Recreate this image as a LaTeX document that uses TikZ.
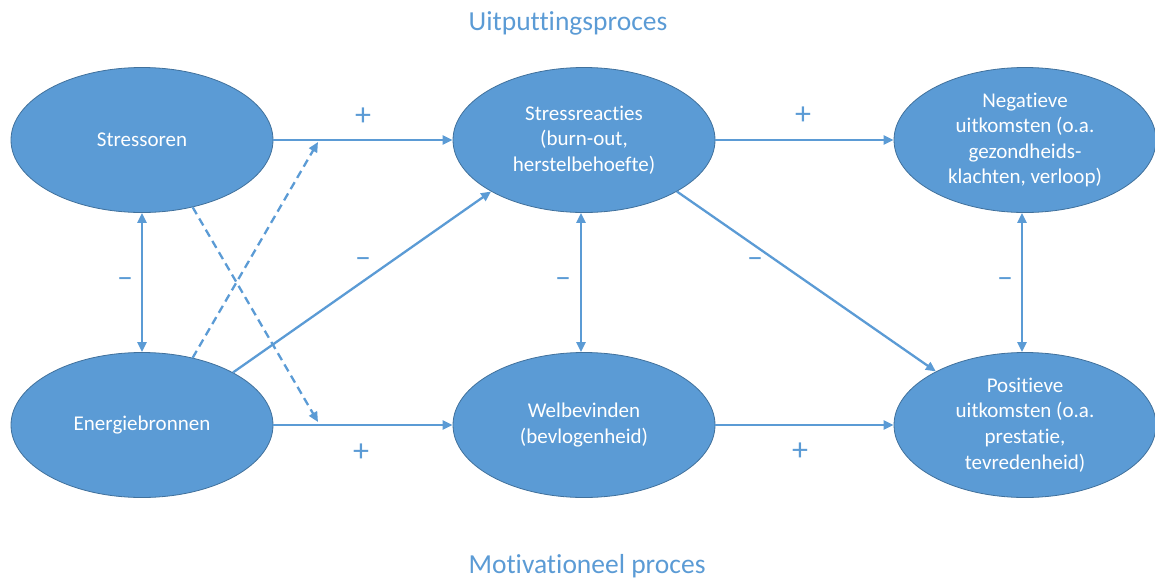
\documentclass[tikz,border=0pt]{standalone}
\usepackage{fontspec}
\setmainfont{Carlito}[Ligatures={TeX,NoCommon,NoContextual,NoRare}]
\usetikzlibrary{shapes.geometric,arrows.meta}

\definecolor{blobfill}{HTML}{5B9BD5}
\definecolor{blobline}{HTML}{41719C}
\definecolor{linkcol}{HTML}{5B9BD5}

\tikzset{
  blob/.style={ellipse, fill=blobfill, draw=blobline, line width=0.8pt,
    minimum width=262pt, minimum height=145pt, inner sep=0pt,
    text=white, align=center,
    font=\fontsize{21}{25.6}\selectfont},
  link/.style={draw=linkcol, line width=2.3pt, -{Triangle[length=10pt,width=9pt]}},
  bilink/.style={draw=linkcol, line width=2.3pt,
    {Triangle[length=10pt,width=9pt]}-{Triangle[length=10pt,width=9pt]}},
  dashlink/.style={link, dash pattern=on 8pt off 5pt},
  sign/.style={text=linkcol, font=\fontsize{32}{36}\selectfont, inner sep=0pt},
  heading/.style={text=linkcol, font=\fontsize{27.5}{33}\selectfont, inner sep=0pt}
}

\begin{document}
\begin{tikzpicture}[x=1pt, y=-1pt]
  \useasboundingbox (0,0) rectangle (1155,579);

  % process headings
  \node[heading] (top) at (568,23) {Uitputtingsproces};
  \node[heading] (bottom) at (587,566) {Motivationeel proces};

  % factors and outcomes
  \node[blob] (s) at (142,140) {Stressoren};
  \node[blob] (e) at (142,425) {Energiebronnen};
  \node[blob] (r) at (584,140) {Stressreacties\\(burn-out,\\herstelbehoefte)};
  \node[blob] (w) at (584,425) {Welbevinden\\(bevlogenheid)};
  \node[blob] (n) at (1025,140) {Negatieve\\uitkomsten (o.a.\\gezondheids-\\klachten, verloop)};
  \node[blob] (p) at (1025,425) {Positieve\\uitkomsten (o.a.\\prestatie,\\tevredenheid)};

  % free ends of the moderation arrows
  \coordinate (m1) at (318,142);
  \coordinate (m2) at (318,422);

  % main paths
  \draw[link] (s.east) -- (r.west);
  \draw[link] (e.east) -- (w.west);
  \draw[link] (r.east) -- (n.west);
  \draw[link] (w.east) -- (p.west);
  \draw[link] (e.30) -- (r.209);
  \draw[link] (r.331) -- (p.149);

  % moderation (dashed)
  \draw[dashlink] (e.53) -- (m1);
  \draw[dashlink] (s.307) -- (m2);

  % correlations
  \draw[bilink] (s.south) -- (e.north);
  \draw[bilink] ([xshift=-3pt]r.south) -- ([xshift=-3pt]w.north);
  \draw[bilink] ([xshift=-3pt]n.south) -- ([xshift=-3pt]p.north);

  % signs
  \node[sign] (p1) at (363,117) {+};
  \node[sign] (p2) at (361,453) {+};
  \node[sign] (p3) at (803,116) {+};
  \node[sign] (p4) at (800,452) {+};
  \node[sign] (m3) at (125,283) {\textendash};
  \node[sign] (m4) at (363,263) {\textendash};
  \node[sign] (m5) at (563,283) {\textendash};
  \node[sign] (m6) at (755,263) {\textendash};
  \node[sign] (m7) at (1005,283) {\textendash};
\end{tikzpicture}
\end{document}
